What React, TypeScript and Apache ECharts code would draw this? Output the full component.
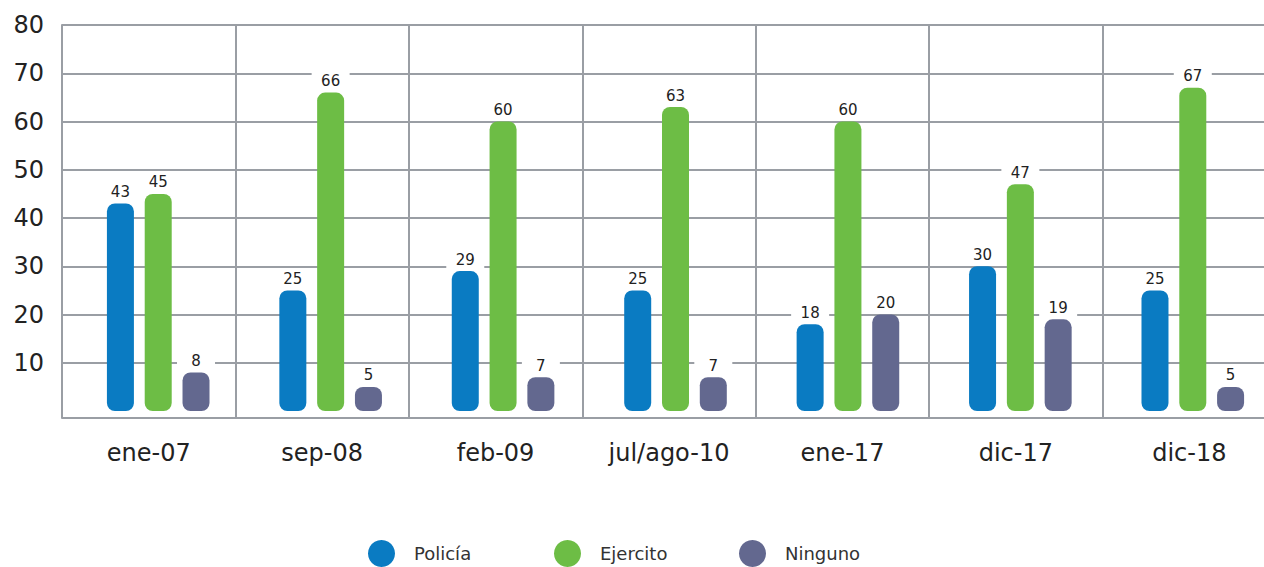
import React, { useEffect, useRef } from "react";
import * as echarts from "echarts";

const categories = ["ene-07", "sep-08", "feb-09", "jul/ago-10", "ene-17", "dic-17", "dic-18"];
const policia = [43, 25, 29, 25, 18, 30, 25];
const ejercito = [45, 66, 60, 63, 60, 47, 67];
const ninguno = [8, 5, 7, 7, 20, 19, 5];
const seriesNames = ["Policía", "Ejercito", "Ninguno"];
const seriesColors = ["#0a7bc2", "#6dbd45", "#63688f"];

const FONT = "DejaVu Sans";
const GRID_COLOR = "#9a9ea4";

export default function App() {
  const ref = useRef<HTMLDivElement>(null);
  useEffect(() => {
    if (!ref.current) return;
    const chart = echarts.init(ref.current, null, { renderer: "svg" });
    const values = [policia, ejercito, ninguno];
    const legendLefts = [368, 554, 739];
    chart.setOption({
      animation: false,
      textStyle: { fontFamily: FONT },
      grid: [
        { left: 62, width: 1214, top: 25, bottom: 156, outerBoundsMode: "none", containLabel: false },
        { left: 72, width: 1207, top: 25, bottom: 156, outerBoundsMode: "none", containLabel: false },
      ],
      legend: seriesNames.map((n, i) => ({
        data: [n],
        left: legendLefts[i],
        top: 540,
        padding: 0,
        icon: "circle",
        itemWidth: 27,
        itemHeight: 27,
        textStyle: { fontSize: 18, color: "#333", fontFamily: FONT, padding: [0, 0, 0, 14] },
      })),
      xAxis: [
        {
          type: "category",
          gridIndex: 0,
          data: categories,
          offset: 7,
          axisLine: { show: true, onZero: false, lineStyle: { color: GRID_COLOR, width: 2 } },
          axisTick: { show: true, inside: true, length: 7, alignWithLabel: false, lineStyle: { color: GRID_COLOR, width: 2 } },
          splitLine: { show: true, lineStyle: { color: GRID_COLOR, width: 2 } },
          axisLabel: { fontSize: 24, color: "#222", margin: 23, fontFamily: FONT },
        },
        {
          type: "category",
          gridIndex: 1,
          data: categories,
          show: false,
        },
      ],
      yAxis: [
        {
          type: "value",
          gridIndex: 0,
          min: 0,
          max: 80,
          interval: 10,
          axisLine: { show: true, lineStyle: { color: GRID_COLOR, width: 2 } },
          axisTick: { show: false },
          splitLine: { show: true, showMinLine: false, lineStyle: { color: GRID_COLOR, width: 2 } },
          axisLabel: {
            fontSize: 24,
            color: "#222",
            margin: 18,
            fontFamily: FONT,
            formatter: (v: number) => (v === 0 ? "" : String(v)),
          },
        },
        {
          type: "value",
          gridIndex: 1,
          min: 0,
          max: 80,
          interval: 10,
          show: false,
          splitLine: { show: false },
        },
      ],
      series: seriesNames.map((n, i) => ({
        name: n,
        type: "bar",
        xAxisIndex: 1,
        yAxisIndex: 1,
        data: values[i],
        barWidth: 27,
        barGap: "40%",
        itemStyle: { color: seriesColors[i], borderRadius: 8 },
        label: {
          show: true,
          position: "top",
          distance: 3,
          fontSize: 15,
          color: "#222",
          fontFamily: FONT,
          backgroundColor: "#fff",
          width: 18,
          align: "center",
          padding: [1, 10],
        },
      })),
    });
    return () => chart.dispose();
  }, []);
  return (
    <div
      ref={ref}
      style={{ position: "fixed", left: 0, top: 0, width: 1264, height: 567, background: "#fff" }}
    />
  );
}
